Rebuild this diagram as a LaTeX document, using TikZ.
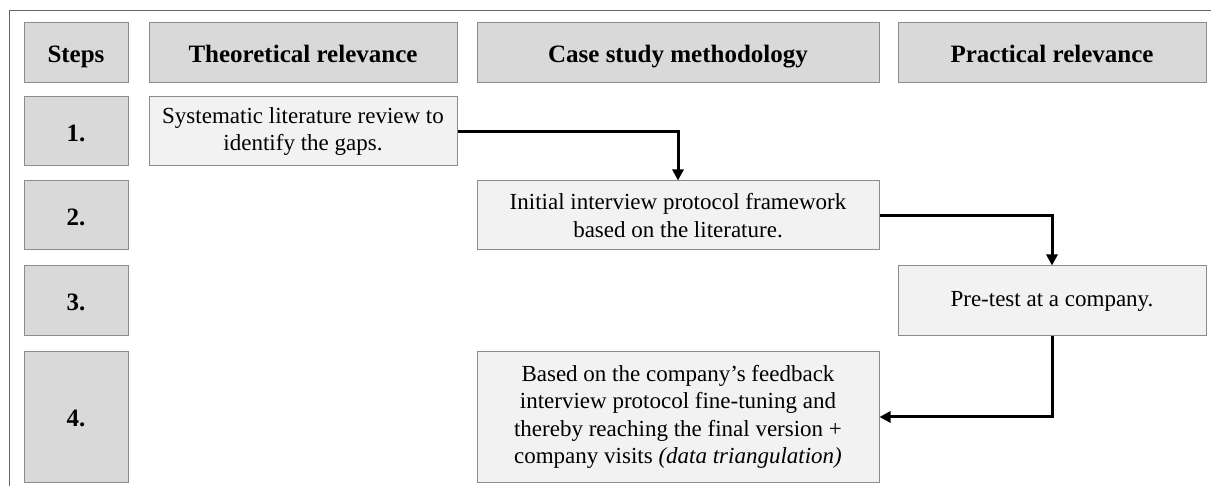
\documentclass[tikz,border=0pt]{standalone}
\usepackage{fontspec}
\setmainfont{Liberation Serif}
\usepackage{tikz}
\usetikzlibrary{arrows.meta}

\definecolor{headgray}{HTML}{D9D9D9}
\definecolor{taskgray}{HTML}{F2F2F2}
\definecolor{edgegray}{HTML}{8C8C8C}

\begin{document}
\begin{tikzpicture}[x=1pt,y=-1pt]

	\tikzstyle head box=[draw=edgegray, fill=headgray, line width=1pt, inner sep=0pt, align=center, text height=20pt, text depth=0pt, font=\fontsize{25}{30}\selectfont\bfseries];
	\tikzstyle task box=[draw=edgegray, fill=taskgray, line width=1pt, inner sep=0pt, align=center, font=\fontsize{23}{27.5}\selectfont];
	\tikzstyle flow arrow=[line width=3pt, -{Triangle[length=11pt,width=11pt]}];
	\tikzstyle frame line=[draw=black!60, line width=1pt];

	\useasboundingbox (0,0) rectangle (1211,486);

	% frame
	\draw[frame line] (9,11) -- (1211,11);
	\draw[frame line] (9,11) -- (9,486);

	% column heads
	\node[head box, minimum width=104pt, minimum height=60pt] (steps) at (76,53) {Steps};
	\node[head box, minimum width=308pt, minimum height=60pt] (theory) at (303,53) {Theoretical relevance};
	\node[head box, minimum width=402pt, minimum height=60pt] (method) at (678,53) {Case study methodology};
	\node[head box, minimum width=308pt, minimum height=60pt] (practice) at (1052,53) {Practical relevance};

	% step numbers
	\node[head box, minimum width=104pt, minimum height=69pt] (s1) at (76,131.5) {1.};
	\node[head box, minimum width=104pt, minimum height=69pt] (s2) at (76,215.5) {2.};
	\node[head box, minimum width=104pt, minimum height=70pt] (s3) at (76,301) {3.};
	\node[head box, minimum width=104pt, minimum height=130pt] (s4) at (76,417) {4.};

	% tasks
	\node[task box, minimum width=308pt, minimum height=69pt] (review) at (303,131.5)
		{Systematic literature review to\\identify the gaps.};
	\node[task box, minimum width=402pt, minimum height=69pt] (protocol) at (678,215.5)
		{Initial interview protocol framework\\based on the literature.};
	\node[task box, minimum width=308pt, minimum height=70pt] (pretest) at (1052,301)
		{Pre-test at a company.};
	\node[task box, minimum width=402pt, minimum height=130pt] (final) at (678,417)
		{Based on the company's feedback\\interview protocol fine-tuning and\\thereby reaching the final version +\\company visits \textit{(data triangulation)}};

	% flow
	\draw[flow arrow] (review.east) -| (protocol.north);
	\draw[flow arrow] (protocol.east) -| (pretest.north);
	\draw[flow arrow] (pretest.south) |- (final.east);

\end{tikzpicture}
\end{document}
